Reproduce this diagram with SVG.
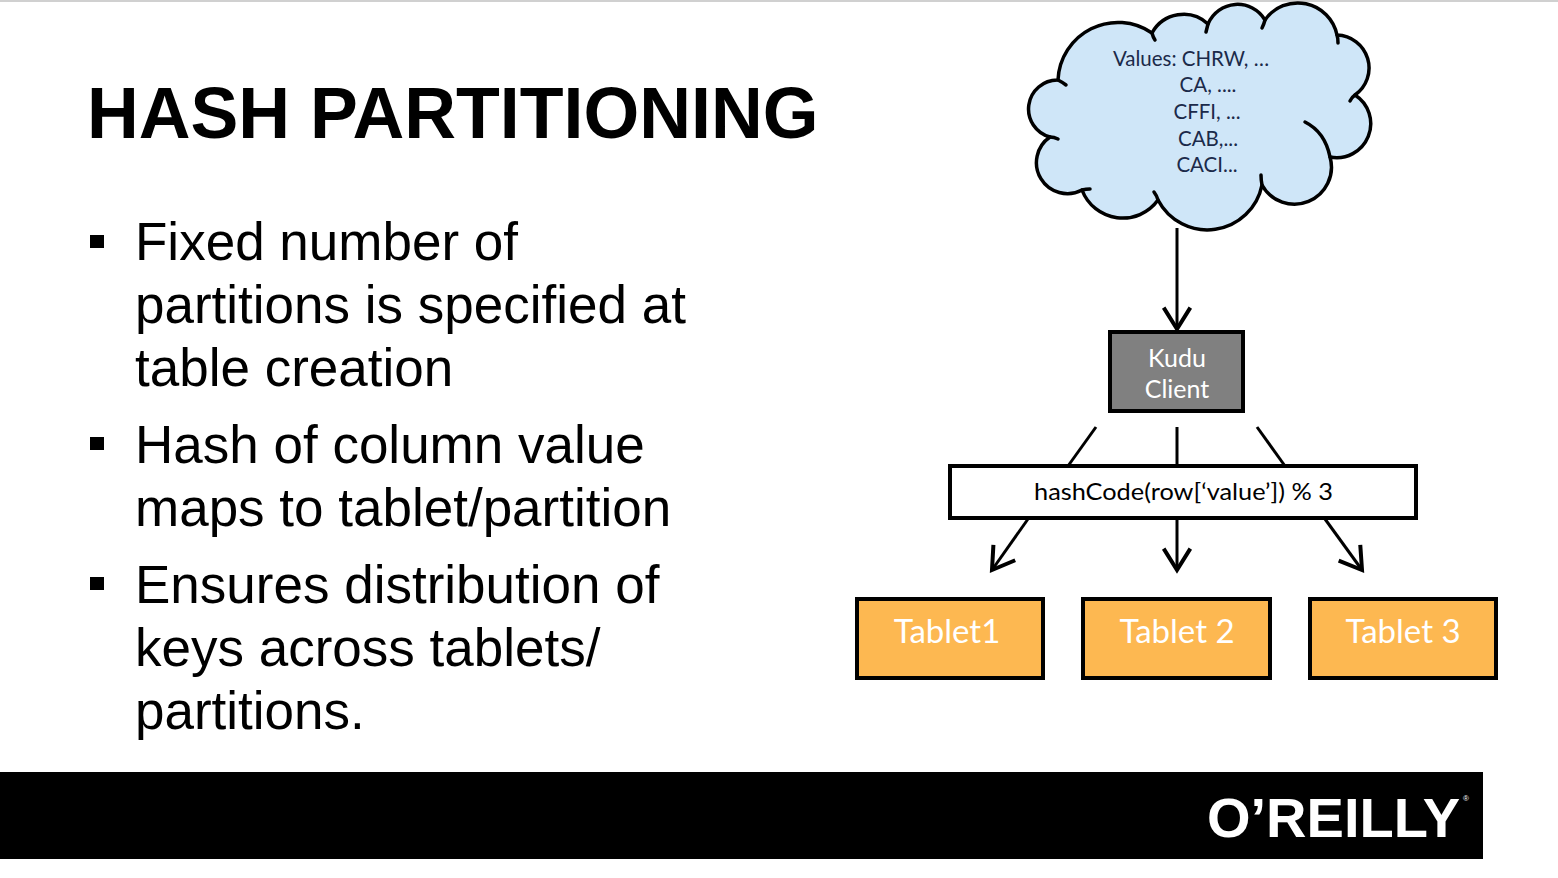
<svg xmlns="http://www.w3.org/2000/svg" width="1558" height="878" viewBox="0 0 1558 878">
<style>
.title{font-family:"Liberation Sans",Arial,sans-serif;font-weight:bold;font-size:71.7px;fill:#000}
.bul{font-family:"Liberation Sans",Arial,sans-serif;font-size:53px;fill:#000}
.gill{font-family:Lato,"Open Sans",sans-serif}
.cloudtxt{font-size:20.5px;fill:#1b2a4a;text-anchor:middle}
.box{stroke:#000;stroke-width:4}
.tab{fill:#fdb851}
.tabtxt{font-size:33px;fill:#fff;text-anchor:middle}
.conn{stroke:#000;stroke-width:3;fill:none}
</style>
<defs>
<marker id="arr" markerUnits="userSpaceOnUse" markerWidth="40" markerHeight="40" viewBox="-20 -15 25 30" refX="0" refY="0" orient="auto" overflow="visible">
<path d="M-16,-10 L0,0 L-16,10" fill="none" stroke="#000" stroke-width="3"/>
</marker>
</defs>
<rect x="0" y="0" width="1558" height="878" fill="#fff"/>
<rect x="0" y="0" width="1558" height="2" fill="#d0d0d0"/>

<g id="title">
<text class="title" x="87" y="138">HASH PARTITIONING</text>
</g>

<g id="bullets">
<rect x="90" y="235" width="14" height="13" fill="#000"/>
<rect x="90" y="437" width="14" height="13" fill="#000"/>
<rect x="90" y="577" width="14" height="13" fill="#000"/>
<text class="bul" x="135" y="260">Fixed number of</text>
<text class="bul" x="135" y="323">partitions is specified at</text>
<text class="bul" x="135" y="386">table creation</text>
<text class="bul" x="135" y="463">Hash of column value</text>
<text class="bul" x="135" y="526">maps to tablet/partition</text>
<text class="bul" x="135" y="603">Ensures distribution of</text>
<text class="bul" x="135" y="666">keys across tablets/</text>
<text class="bul" x="135" y="729">partitions.</text>
</g>

<g id="cloud">
<path d="M1058,80 A60,60 0 0 1 1152,33 A36,36 0 0 1 1208,24 A32,32 0 0 1 1265,20 A40,40 0 0 1 1337,35 A33,33 0 0 1 1355,95 A34,34 0 0 1 1330,157 A37,37 0 0 1 1262,185 A55.7,55.7 0 0 1 1158,200 A43.5,43.5 0 0 1 1082,190 A31,31 0 0 1 1050,137 A29,29 0 0 1 1058,80 Z" fill="#cfe6f8" stroke="#000" stroke-width="3.5" stroke-linejoin="round"/>
<g fill="none" stroke="#000" stroke-width="3.5" stroke-linecap="round">
<path d="M1058,80 Q1062,82 1066,85"/>
<path d="M1152,33 Q1153,37 1155,40"/>
<path d="M1208,24 Q1207,28 1206,32"/>
<path d="M1265,20 Q1264,24 1262,28"/>
<path d="M1337,35 Q1338,38 1338,43"/>
<path d="M1355,95 Q1352,97 1350,101"/>
<path d="M1305,122 Q1325,132 1330,157"/>
<path d="M1262,185 Q1261,180 1261,175"/>
<path d="M1158,200 Q1157,196 1154,192"/>
<path d="M1082,190 Q1086,189 1090,189"/>
<path d="M1050,137 Q1054,137 1058,139"/>
</g>
<g class="gill">
<text class="cloudtxt" x="1191" y="66">Values: CHRW, …</text>
<text class="cloudtxt" x="1208" y="92">CA, ....</text>
<text class="cloudtxt" x="1207" y="119">CFFI, ...</text>
<text class="cloudtxt" x="1208" y="146">CAB,...</text>
<text class="cloudtxt" x="1207" y="172">CACI...</text>
</g>
</g>

<g id="kudu">
<rect class="box" x="1110" y="332" width="133" height="79" fill="#808080"/>
<text class="gill" x="1177" y="367" font-size="25" fill="#fff" text-anchor="middle">Kudu</text>
<text class="gill" x="1177" y="398" font-size="25" fill="#fff" text-anchor="middle">Client</text>
</g>

<g id="hash">
<rect class="box" x="950" y="466" width="466" height="52" fill="#fff"/>
<text class="gill" x="1034" y="500" font-size="24" fill="#000" textLength="299" lengthAdjust="spacingAndGlyphs">hashCode(row[‘value’]) % 3</text>
</g>

<g id="tablet1">
<rect class="box tab" x="857" y="599" width="186" height="79"/>
<text class="gill tabtxt" x="947" y="643">Tablet1</text>
</g>
<g id="tablet2">
<rect class="box tab" x="1083" y="599" width="187" height="79"/>
<text class="gill tabtxt" x="1177" y="643">Tablet 2</text>
</g>
<g id="tablet3">
<rect class="box tab" x="1310" y="599" width="186" height="79"/>
<text class="gill tabtxt" x="1403" y="643">Tablet 3</text>
</g>

<g id="connectors">
<line class="conn" x1="1177" y1="228" x2="1177" y2="329" marker-end="url(#arr)"/>
<line class="conn" x1="1096" y1="427" x2="1068" y2="466"/>
<line class="conn" x1="1177" y1="427" x2="1177" y2="466"/>
<line class="conn" x1="1257" y1="427" x2="1285" y2="466"/>
<line class="conn" x1="1028" y1="519" x2="992" y2="570" marker-end="url(#arr)"/>
<line class="conn" x1="1177" y1="519" x2="1177" y2="570" marker-end="url(#arr)"/>
<line class="conn" x1="1325" y1="519" x2="1362" y2="570" marker-end="url(#arr)"/>
</g>

<g id="footer">
<rect x="0" y="772" width="1483" height="87" fill="#000"/>
<text x="1207" y="837" font-family="'Liberation Sans',Arial,sans-serif" font-weight="bold" font-size="56" fill="#fff">O’REILLY<tspan dx="3" dy="-36" font-size="8" font-weight="normal">®</tspan></text>
</g>
</svg>
